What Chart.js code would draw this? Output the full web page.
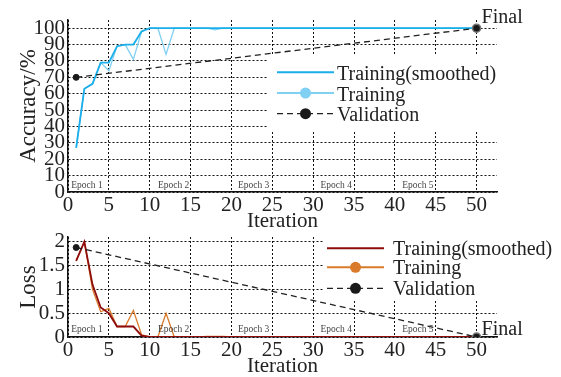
<!DOCTYPE html>
<html>
<head>
<meta charset="utf-8">
<script src="https://cdn.jsdelivr.net/npm/chart.js@4.4.1/dist/chart.umd.min.js"></script>
<style>
  html, body { margin: 0; padding: 0; background: #fff; }
  #wrap { position: relative; width: 561px; height: 377px; }
  canvas { position: absolute; left: 0; top: 0; }
</style>
</head>
<body>
<div id="wrap">
  <canvas id="acc" width="561" height="377"></canvas>
  <canvas id="loss" width="561" height="377"></canvas>
</div>
<script>
// iteration numbers (x values)
const iterations = [1, 2, 3, 4, 5, 6, 7, 8, 9, 10, 11, 12, 13, 14, 15, 16, 17, 18, 19, 20,
  21, 22, 23, 24, 25, 26, 27, 28, 29, 30, 31, 32, 33, 34, 35, 36, 37, 38, 39, 40,
  41, 42, 43, 44, 45, 46, 47, 48, 49, 50];

// accuracy (%)
const accSmoothed = [27, 63, 66, 79, 79, 89, 90, 90, 98, 100, 100, 100, 100, 100, 100, 100, 100, 100, 100, 100,
  100, 100, 100, 100, 100, 100, 100, 100, 100, 100, 100, 100, 100, 100, 100, 100, 100, 100, 100, 100,
  100, 100, 100, 100, 100, 100, 100, 100, 100, 100];
const accTraining = [27, 63, 66, 79, 74, 89, 90, 81, 98, 100, 100, 84, 100, 100, 100, 100, 100, 99, 100, 100,
  100, 100, 100, 100, 100, 100, 100, 100, 100, 100, 100, 100, 100, 100, 100, 100, 100, 100, 100, 100,
  100, 100, 100, 100, 100, 100, 100, 100, 100, 100];

// loss
const lossSmoothed = [1.6, 2.0, 1.1, 0.62, 0.5, 0.22, 0.22, 0.22, 0.03, 0, 0, 0, 0, 0, 0, 0, 0, 0, 0, 0,
  0, 0, 0, 0, 0, 0, 0, 0, 0, 0, 0, 0, 0, 0, 0, 0, 0, 0, 0, 0,
  0, 0, 0, 0, 0, 0, 0, 0, 0, 0];
const lossTraining = [1.6, 2.0, 1.0, 0.53, 0.6, 0.22, 0.22, 0.56, 0.05, 0, 0, 0.5, 0, 0, 0, 0, 0.01, 0.01, 0.01, 0,
  0, 0, 0, 0, 0, 0, 0, 0, 0, 0, 0, 0, 0, 0, 0, 0, 0, 0, 0, 0,
  0, 0, 0, 0, 0, 0, 0, 0, 0, 0];

// validation (only first and final)
const valIterations = [1, 50];
const valAccuracy = [70, 100];
const valLoss = [1.88, 0];

// tick labels
const iterTicks = [0, 5, 10, 15, 20, 25, 30, 35, 40, 45, 50];
const accTicks = [0, 10, 20, 30, 40, 50, 60, 70, 80, 90, 100];
const lossTicks = [0, 0.5, 1, 1.5, 2];

const epochLabels = ["Epoch 1", "Epoch 2", "Epoch 3", "Epoch 4", "Epoch 5"];
const legendLabels = ["Training(smoothed)", "Training", "Validation"];

const FONT = "'Liberation Serif', 'Times New Roman', serif";
const INK = "#222";

const pts = (xs, ys) => xs.map((x, i) => ({ x: x, y: ys[i] }));

// draws the legend box, epoch labels and the "Final" tag
const overlay = {
  id: "overlay",
  afterDraw(chart, args, o) {
    const ctx = chart.ctx;
    const { x } = chart.scales;
    const area = chart.chartArea;
    ctx.save();

    // epoch labels
    ctx.font = "9.5px " + FONT;
    ctx.fillStyle = "#444";
    ctx.textBaseline = "alphabetic";
    ctx.textAlign = "left";
    o.epochAt.forEach((it, i) => {
      ctx.fillText(epochLabels[i], x.getPixelForValue(it), area.bottom - o.epochLift);
    });

    // Final
    ctx.font = "20px " + FONT;
    ctx.fillStyle = INK;
    ctx.fillText("Final", x.getPixelForValue(50) + 5, o.finalBase);

    // legend
    const L = o.legend;
    ctx.fillStyle = "#fff";
    ctx.fillRect(L.box[0], L.box[1], L.box[2], L.box[3]);
    const ds = chart.data.datasets;
    ds.forEach((d, row) => {
      const ly = L.rows[row];
      ctx.strokeStyle = d.borderColor;
      ctx.lineWidth = row === 2 ? 1.3 : 2;
      ctx.setLineDash(d.borderDash || []);
      ctx.beginPath();
      ctx.moveTo(L.x0, ly);
      ctx.lineTo(L.x1, ly);
      ctx.stroke();
      ctx.setLineDash([]);
      if (row > 0) {
        ctx.fillStyle = row === 1 ? d.borderColor : "#1a1a1a";
        ctx.beginPath();
        ctx.arc((L.x0 + L.x1) / 2, ly, 5.5, 0, Math.PI * 2);
        ctx.fill();
      }
      ctx.fillStyle = INK;
      ctx.font = "20px " + FONT;
      ctx.fillText(legendLabels[row], L.tx, ly + L.base);
    });
    ctx.restore();
  }
};

function makeChart(id, cfg) {
  return new Chart(document.getElementById(id), {
    type: "line",
    data: {
      datasets: [
        {
          data: pts(iterations, cfg.smoothed),
          borderColor: cfg.cSmooth,
          borderWidth: 1.8,
          pointRadius: 0,
          order: 1
        },
        {
          data: pts(iterations, cfg.training),
          borderColor: cfg.cTrain,
          borderWidth: 1.3,
          pointRadius: 0,
          order: 2
        },
        {
          data: pts(valIterations, cfg.validation),
          borderColor: "#222",
          borderWidth: 1.3,
          borderDash: [6, 4],
          pointRadius: [3, 4],
          pointBackgroundColor: "#1a1a1a",
          pointBorderColor: ["#1a1a1a", "#777"],
          pointBorderWidth: [1, 1.5],
          order: 0
        }
      ]
    },
    options: {
      responsive: false,
      animation: false,
      events: [],
      layout: { padding: { left: 0, right: 64, top: cfg.padTop, bottom: cfg.padBottom } },
      plugins: {
        legend: { display: false },
        tooltip: { enabled: false },
        overlay: cfg.overlay
      },
      scales: {
        x: {
          type: "linear",
          min: 0,
          max: 52.5,
          afterBuildTicks: s => { s.ticks = iterTicks.map(v => ({ value: v })); },
          afterFit: s => { s.height = 40; },
          ticks: {
            autoSkip: false,
            maxRotation: 0,
            padding: 1,
            color: INK,
            font: { family: FONT, size: 21 }
          },
          grid: { color: "#111", lineWidth: 1, drawTicks: false },
          border: { display: true, color: "#111", width: 1.5, dash: [2, 2] },
          title: {
            display: true,
            text: "Iteration",
            color: INK,
            font: { family: FONT, size: 21, lineHeight: 1 },
            padding: { top: 0, bottom: 0 }
          }
        },
        y: {
          min: 0,
          max: cfg.yMax,
          afterBuildTicks: s => { s.ticks = cfg.yTicks.map(v => ({ value: v })); },
          afterFit: s => { s.width = 68; },
          ticks: {
            autoSkip: false,
            padding: 3,
            color: INK,
            font: { family: FONT, size: 21 },
            callback: v => String(v)
          },
          grid: { color: "#111", lineWidth: 1, drawTicks: false },
          border: { display: true, color: "#111", width: 1.5, dash: [2, 2] },
          title: {
            display: true,
            text: cfg.yTitle,
            color: INK,
            font: { family: FONT, size: 23, lineHeight: 1 },
            padding: { top: 17, bottom: 0 }
          }
        }
      }
    },
    plugins: [overlay]
  });
}

makeChart("acc", {
  smoothed: accSmoothed,
  training: accTraining,
  validation: valAccuracy,
  cSmooth: "#1aaeea",
  cTrain: "#80d0f3",
  yMax: 105,
  yTicks: accTicks,
  yTitle: "Accuracy/%",
  padTop: 20,
  padBottom: 145,
  overlay: {
    epochAt: [0.4, 11, 20.8, 30.9, 40.9],
    epochLift: 4,
    finalBase: 23,
    legend: { box: [268, 56, 234, 76], x0: 277, x1: 334, tx: 337, rows: [72.3, 93, 113.7], base: 7.7 }
  }
});

makeChart("loss", {
  smoothed: lossSmoothed,
  training: lossTraining,
  validation: valLoss,
  cSmooth: "#8e0c0c",
  cTrain: "#d97b2b",
  yMax: 2.1,
  yTicks: lossTicks,
  yTitle: "Loss",
  padTop: 237,
  padBottom: 0,
  overlay: {
    epochAt: [0.4, 11, 20.8, 30.9, 40.9],
    epochLift: 5,
    finalBase: 335,
    legend: { box: [324, 237, 237, 63], x0: 327, x1: 384, tx: 393, rows: [248.3, 267.3, 288.3], base: 6.5 }
  }
});
</script>
</body>
</html>
